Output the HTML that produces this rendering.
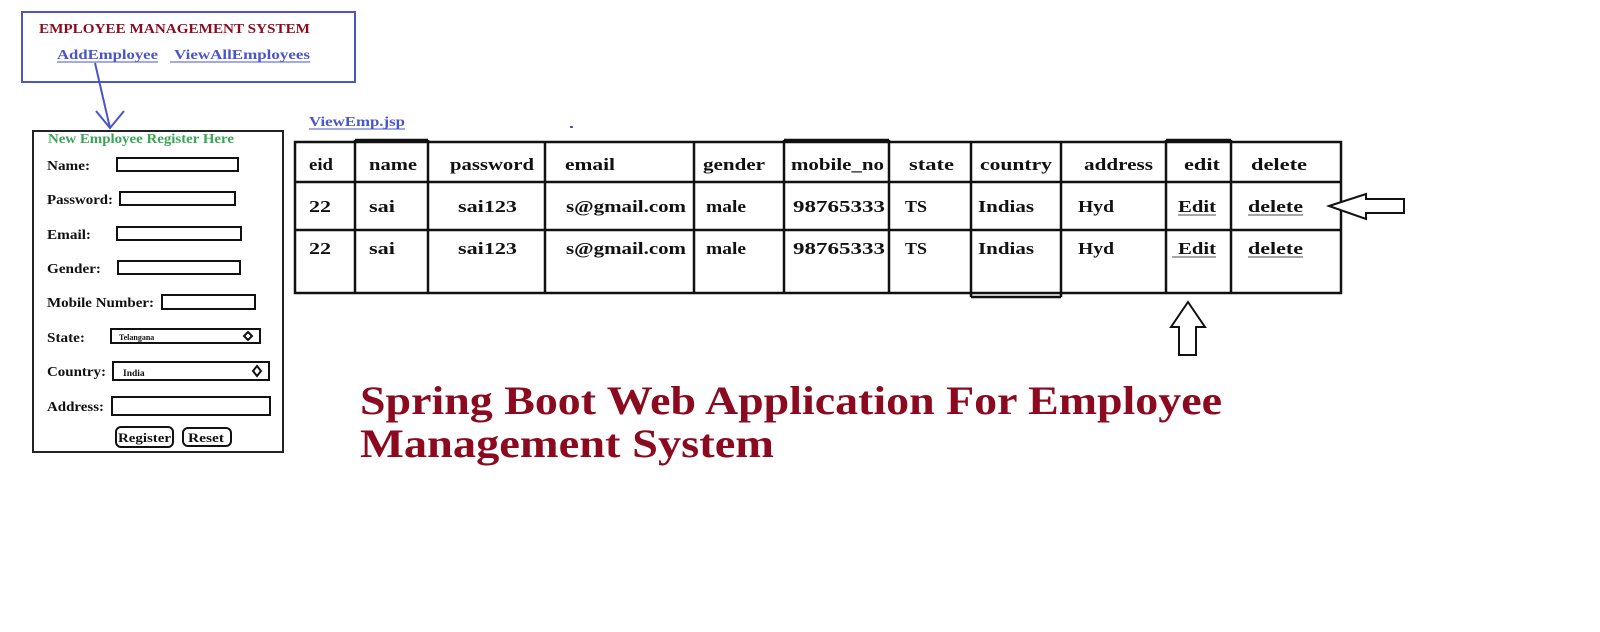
<!DOCTYPE html>
<html><head><meta charset="utf-8"><style>
html,body{margin:0;padding:0;background:#fff;width:1600px;height:632px;overflow:hidden}
svg{display:block}
text{font-family:"Liberation Serif",serif;font-weight:bold}
</style></head><body>
<svg width="1600" height="632" viewBox="0 0 1600 632" xmlns="http://www.w3.org/2000/svg">
<rect width="1600" height="632" fill="#fff"/>
<rect x="22" y="12" width="333" height="70" fill="none" stroke="#4a55cc" stroke-width="2"/>
<text x="39" y="33" font-size="14" fill="#8b0a1f" textLength="271" lengthAdjust="spacingAndGlyphs">EMPLOYEE MANAGEMENT SYSTEM</text>
<text x="57" y="59" font-size="14" fill="#4a55cc" textLength="101" lengthAdjust="spacingAndGlyphs">AddEmployee</text>
<line x1="57" y1="62" x2="158" y2="62" stroke="#4a55cc" stroke-width="1"/>
<text x="174" y="59" font-size="14" fill="#4a55cc" textLength="136" lengthAdjust="spacingAndGlyphs">ViewAllEmployees</text>
<line x1="170" y1="62" x2="310" y2="62" stroke="#4a55cc" stroke-width="1"/>
<path d="M95 63 L110 128 M96 111 L110 128 L124 111" fill="none" stroke="#4a55cc" stroke-width="2"/>
<rect x="33" y="131" width="250" height="321" fill="none" stroke="#222" stroke-width="2"/>
<text x="48" y="143" font-size="13.5" fill="#3aa655" textLength="186" lengthAdjust="spacingAndGlyphs">New Employee Register Here</text>
<g font-size="13.5" fill="#111">
<text x="47" y="170" textLength="43" lengthAdjust="spacingAndGlyphs">Name:</text>
<text x="47" y="204" textLength="66" lengthAdjust="spacingAndGlyphs">Password:</text>
<text x="47" y="239" textLength="44" lengthAdjust="spacingAndGlyphs">Email:</text>
<text x="47" y="273" textLength="54" lengthAdjust="spacingAndGlyphs">Gender:</text>
<text x="47" y="307" textLength="107" lengthAdjust="spacingAndGlyphs">Mobile Number:</text>
<text x="47" y="342" textLength="38" lengthAdjust="spacingAndGlyphs">State:</text>
<text x="47" y="376" textLength="59" lengthAdjust="spacingAndGlyphs">Country:</text>
<text x="47" y="411" textLength="57" lengthAdjust="spacingAndGlyphs">Address:</text>
</g>
<g fill="none" stroke="#111" stroke-width="2">
<rect x="117" y="158" width="121" height="13"/>
<rect x="120" y="192" width="115" height="13"/>
<rect x="117" y="227" width="124" height="13"/>
<rect x="118" y="261" width="122" height="13"/>
<rect x="162" y="295" width="93" height="14"/>
<rect x="111" y="329" width="149" height="14"/>
<rect x="113" y="362" width="156" height="18"/>
<rect x="112" y="397" width="158" height="18"/>
<rect x="116" y="427" width="57" height="20" rx="5"/>
<rect x="183" y="428" width="48" height="18" rx="5"/>
</g>
<text x="119" y="340" font-size="8" fill="#111">Telangana</text>
<text x="123" y="376" font-size="9.5" fill="#111">India</text>
<path d="M248 332 L252 336 L248 340 L244 336 Z" fill="none" stroke="#111" stroke-width="2"/>
<path d="M257 366 L261 371 L257 376 L253 371 Z" fill="none" stroke="#111" stroke-width="2"/>
<text x="118" y="442" font-size="13" fill="#111" textLength="53" lengthAdjust="spacingAndGlyphs">Register</text>
<text x="188" y="442" font-size="13" fill="#111" textLength="36" lengthAdjust="spacingAndGlyphs">Reset</text>
<text x="309" y="126" font-size="13.5" fill="#4a55cc" textLength="96" lengthAdjust="spacingAndGlyphs">ViewEmp.jsp</text>
<line x1="309" y1="129" x2="405" y2="129" stroke="#4a55cc"/>
<rect x="570" y="126" width="3" height="2" fill="#4a55cc"/>
<g fill="none" stroke="#111" stroke-width="2.5">
<rect x="295" y="142" width="1046" height="151"/>
<line x1="295" y1="182" x2="1341" y2="182"/>
<line x1="295" y1="230" x2="1341" y2="230"/>
<line x1="355" y1="140" x2="355" y2="293"/>
<line x1="428" y1="140" x2="428" y2="293"/>
<line x1="355" y1="140" x2="428" y2="140"/>
<line x1="545" y1="142" x2="545" y2="293"/>
<line x1="694" y1="142" x2="694" y2="293"/>
<line x1="784" y1="140" x2="784" y2="293"/>
<line x1="784" y1="140" x2="889" y2="140"/>
<line x1="889" y1="140" x2="889" y2="293"/>
<line x1="971" y1="142" x2="971" y2="297"/>
<line x1="1061" y1="142" x2="1061" y2="297"/>
<line x1="971" y1="297" x2="1061" y2="297"/>
<line x1="1166" y1="140" x2="1166" y2="293"/>
<line x1="1231" y1="140" x2="1231" y2="293"/>
<line x1="1166" y1="140" x2="1231" y2="140"/>
</g>
<g font-size="17" fill="#111" lengthAdjust="spacingAndGlyphs">
<text x="309" y="170" textLength="24" lengthAdjust="spacingAndGlyphs">eid</text>
<text x="369" y="170" textLength="48" lengthAdjust="spacingAndGlyphs">name</text>
<text x="450" y="170" textLength="84" lengthAdjust="spacingAndGlyphs">password</text>
<text x="565" y="170" textLength="50" lengthAdjust="spacingAndGlyphs">email</text>
<text x="703" y="170" textLength="62" lengthAdjust="spacingAndGlyphs">gender</text>
<text x="791" y="170" textLength="93" lengthAdjust="spacingAndGlyphs">mobile_no</text>
<text x="909" y="170" textLength="45" lengthAdjust="spacingAndGlyphs">state</text>
<text x="980" y="170" textLength="72" lengthAdjust="spacingAndGlyphs">country</text>
<text x="1084" y="170" textLength="69" lengthAdjust="spacingAndGlyphs">address</text>
<text x="1184" y="170" textLength="36" lengthAdjust="spacingAndGlyphs">edit</text>
<text x="1251" y="170" textLength="56" lengthAdjust="spacingAndGlyphs">delete</text>

<text x="309" y="212" textLength="22" lengthAdjust="spacingAndGlyphs">22</text>
<text x="369" y="212" textLength="26" lengthAdjust="spacingAndGlyphs">sai</text>
<text x="458" y="212" textLength="59" lengthAdjust="spacingAndGlyphs">sai123</text>
<text x="566" y="212" textLength="120" lengthAdjust="spacingAndGlyphs">s@gmail.com</text>
<text x="706" y="212" textLength="40" lengthAdjust="spacingAndGlyphs">male</text>
<text x="793" y="212" textLength="92" lengthAdjust="spacingAndGlyphs">98765333</text>
<text x="905" y="212" textLength="22" lengthAdjust="spacingAndGlyphs">TS</text>
<text x="978" y="212" textLength="56" lengthAdjust="spacingAndGlyphs">Indias</text>
<text x="1078" y="212" textLength="36" lengthAdjust="spacingAndGlyphs">Hyd</text>
<text x="1178" y="212" textLength="38" lengthAdjust="spacingAndGlyphs">Edit</text>
<text x="1248" y="212" textLength="55" lengthAdjust="spacingAndGlyphs">delete</text>

<text x="309" y="254" textLength="22" lengthAdjust="spacingAndGlyphs">22</text>
<text x="369" y="254" textLength="26" lengthAdjust="spacingAndGlyphs">sai</text>
<text x="458" y="254" textLength="59" lengthAdjust="spacingAndGlyphs">sai123</text>
<text x="566" y="254" textLength="120" lengthAdjust="spacingAndGlyphs">s@gmail.com</text>
<text x="706" y="254" textLength="40" lengthAdjust="spacingAndGlyphs">male</text>
<text x="793" y="254" textLength="92" lengthAdjust="spacingAndGlyphs">98765333</text>
<text x="905" y="254" textLength="22" lengthAdjust="spacingAndGlyphs">TS</text>
<text x="978" y="254" textLength="56" lengthAdjust="spacingAndGlyphs">Indias</text>
<text x="1078" y="254" textLength="36" lengthAdjust="spacingAndGlyphs">Hyd</text>
<text x="1178" y="254" textLength="38" lengthAdjust="spacingAndGlyphs">Edit</text>
<text x="1248" y="254" textLength="55" lengthAdjust="spacingAndGlyphs">delete</text>
</g>
<g stroke="#888" stroke-width="1.5">
<line x1="1178" y1="215" x2="1216" y2="215"/>
<line x1="1248" y1="215" x2="1303" y2="215"/>
<line x1="1172" y1="257" x2="1216" y2="257"/>
<line x1="1248" y1="257" x2="1303" y2="257"/>
</g>
<path d="M1329 206 L1366 194 L1366 199 L1404 199 L1404 213 L1366 213 L1366 219 Z" fill="#fff" stroke="#111" stroke-width="2"/>
<path d="M1188 302 L1205 327 L1196 327 L1196 355 L1179 355 L1179 327 L1171 327 Z" fill="#fff" stroke="#111" stroke-width="2"/>
<text x="360" y="414" font-size="40" fill="#8b0a1f" textLength="862" lengthAdjust="spacingAndGlyphs">Spring Boot Web Application For Employee</text>
<text x="360" y="457" font-size="40" fill="#8b0a1f" textLength="414" lengthAdjust="spacingAndGlyphs">Management System</text>
</svg>
</body></html>
